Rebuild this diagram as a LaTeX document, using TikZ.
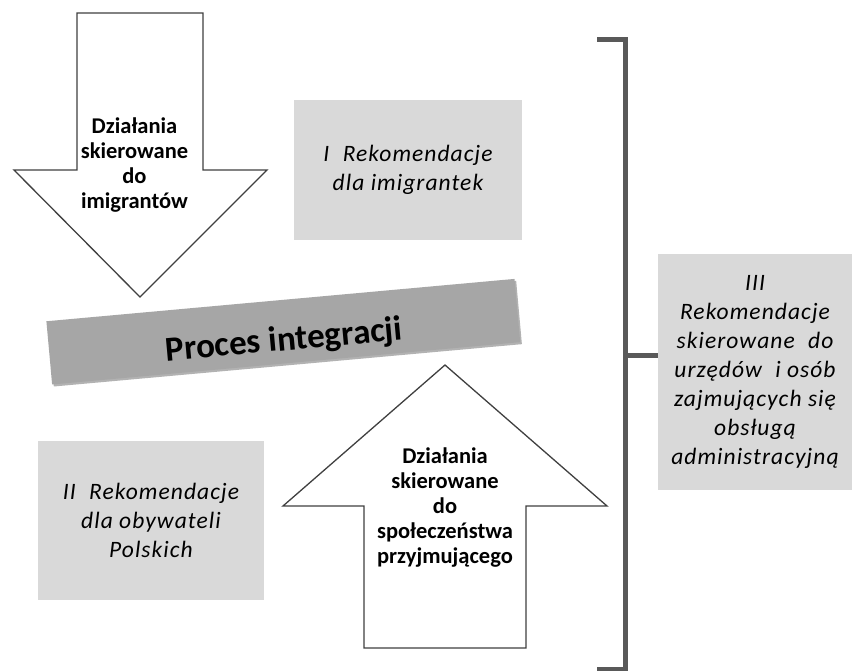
\documentclass[tikz,border=0pt]{standalone}
\usepackage{fontspec}
\setmainfont{Carlito}
\newfontfamily\recfont[LetterSpace=4.5]{Carlito}
\usetikzlibrary{calc}
\definecolor{boxgray}{HTML}{D9D9D9}
\definecolor{bargray}{HTML}{A6A6A6}
\definecolor{shadegray}{HTML}{7F7F7F}
\definecolor{brackgray}{HTML}{595959}
\definecolor{arrowline}{HTML}{404040}
\begin{document}
\begin{tikzpicture}[x=1pt,y=-1pt,
  arrowshape/.style={draw=arrowline, line width=1.3pt, fill=white, line join=miter},
  arrowtext/.style={font=\fontsize{22.5}{25}\selectfont\bfseries, align=center, text=black, inner sep=0pt},
  recbox/.style={fill=boxgray, draw=none, align=center, text=black,
    font=\recfont\itshape\fontsize{23.5}{29}\selectfont, inner sep=0pt},
  bracketline/.style={draw=brackgray, line width=5pt},
  barbox/.style={minimum width=470, minimum height=63.5, rotate=5.17, inner sep=0pt, draw=none},
]
\useasboundingbox (0,0) rectangle (852,670);
\fill[white] (0,0) rectangle (852,670);

% down arrow
\coordinate (d1) at (77,13);
\coordinate (d2) at (203,13);
\coordinate (d3) at (203,170);
\coordinate (d4) at (267,170);
\coordinate (d5) at (140,297);
\coordinate (d6) at (14,170);
\coordinate (d7) at (77,170);
\draw[arrowshape] (d1) -- (d2) -- (d3) -- (d4) -- (d5) -- (d6) -- (d7) -- cycle;
\node[arrowtext] (downtext) at (134.5,165) {Działania\\skierowane\\do\\imigrantów};

% up arrow
\coordinate (u1) at (445,365);
\coordinate (u2) at (607,506);
\coordinate (u3) at (526,506);
\coordinate (u4) at (526,648);
\coordinate (u5) at (364,648);
\coordinate (u6) at (364,506);
\coordinate (u7) at (283,506);
\draw[arrowshape] (u1) -- (u2) -- (u3) -- (u4) -- (u5) -- (u6) -- (u7) -- cycle;
\node[arrowtext] (uptext) at (445,508) {Działania\\skierowane\\do\\społeczeństwa\\przyjmującego};

% recommendation boxes
\node[recbox, minimum width=228, minimum height=140] (rec1) at (408,170) {I\hspace{0.3em} Rekomendacje\\dla imigrantek};
\node[recbox, minimum width=226, minimum height=159] (rec2) at (151,520.5) {II\hspace{0.3em} Rekomendacje\\dla obywateli\\Polskich};
\node[recbox, minimum width=194, minimum height=236] (rec3) at (755,372) {III\\Rekomendacje\\skierowane\hspace{0.3em} do\\urzędów\hspace{0.3em} i osób\\zajmujących się\\obsługą\\administracyjną};

% process bar
\node[barbox, fill=shadegray, opacity=0.6] (barshadow) at (285,333.7) {};
\node[barbox, fill=bargray] (bar) at (283.3,331.7) {};
\node[rotate=5.17, anchor=base, inner sep=0pt, text=black,
  font=\bfseries\fontsize{35}{40}\selectfont] (bartext) at (285,350.6) {Proces integracji};

% bracket
\coordinate (bt1) at (597,39);
\coordinate (bt2) at (625,39);
\coordinate (bb2) at (625,669);
\coordinate (bb1) at (597,669);
\coordinate (bmid) at (625,355);
\draw[bracketline] (bt1) -- (bt2) -- (bb2) -- (bb1);
\draw[bracketline] (bmid) -- (rec3.west |- bmid);
\end{tikzpicture}
\end{document}
